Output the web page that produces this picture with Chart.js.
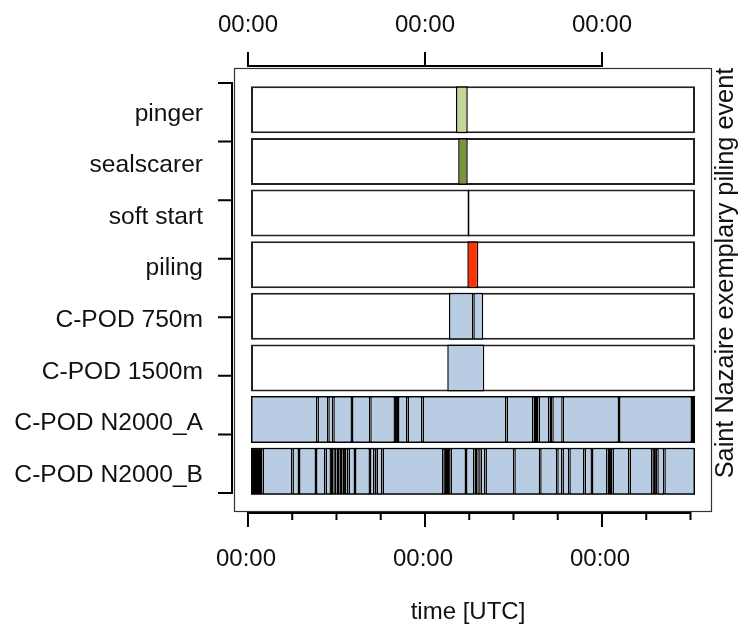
<!DOCTYPE html>
<html>
<head>
<meta charset="utf-8">
<script src="https://cdn.jsdelivr.net/npm/chart.js@4"></script>
<style>
  body { margin: 0; background: #fff; }
  canvas { display: block; }
</style>
</head>
<body>
<canvas id="myChart" width="742" height="632"></canvas>
<script>
'use strict';

// rows, top to bottom
const categories = ['pinger', 'sealscarer', 'soft start', 'piling', 'C-POD 750m', 'C-POD 1500m', 'C-POD N2000_A', 'C-POD N2000_B'];

// time axis in hours, ticks every 6h, labelled every 24h
const xRange = [0.41, 60.61];
const majorTicks = [0, 24, 48];
const minorTicks = [6, 12, 18, 30, 36, 42, 54, 60];
const tickLabels = ['00:00', '00:00', '00:00'];

// event intervals [start, end] in hours
const pinger = [[28.2, 29.8]];
const sealscarer = [[28.5, 29.8]];
const softStart = [[29.76, 30.04]];
const piling = [[29.74, 31.23]];
const pod750 = [[27.25, 30.55], [30.55, 31.9]];
const pod1500 = [[27.02, 32.04]];
const n2000A = [[0.41, 9.42], [9.42, 10.89], [10.89, 11.57], [11.57, 14.1], [14.1, 16.58], [16.58, 19.93],
   [20.34, 21.63], [21.63, 23.66], [23.66, 35.05], [35.05, 38.71], [39.39, 40.88], [40.88, 41.26],
   [41.26, 42.67], [42.67, 50.31], [50.31, 60.2]];
const n2000ABursts = [[19.93, 20.34], [38.71, 39.39], [60.2, 60.61]];
const n2000B = [[1.97, 6.03], [6.03, 6.92], [6.92, 9.22], [9.22, 10.51], [10.51, 11.25], [11.57, 12.0],
   [12.0, 12.38], [12.38, 12.79], [12.79, 13.15], [13.15, 13.63], [13.63, 14.51], [14.51, 16.54],
   [16.54, 17.15], [17.45, 18.24], [18.24, 26.48], [27.48, 29.56], [29.56, 30.71], [30.71, 31.09],
   [31.09, 31.55], [31.55, 32.2], [32.2, 36.11], [36.11, 39.62], [39.62, 41.93], [41.93, 42.64],
   [42.64, 43.57], [43.57, 45.63], [45.63, 46.64], [46.64, 48.75], [49.42, 51.73], [51.73, 54.82],
   [55.5, 56.45], [56.45, 60.61]];
const n2000BBursts = [[0.41, 1.97], [11.25, 11.57], [17.15, 17.45], [26.48, 27.48], [48.75, 49.42], [54.82, 55.5]];

const stripText = 'Saint Nazaire exemplary piling event';
const xTitle = 'time [UTC]';

const FONT = '24px "Liberation Sans", Arial, sans-serif';
const LABEL_FONT = '24.6px "Liberation Sans", Arial, sans-serif';
const STRIP_FONT = '25.3px "Liberation Sans", Arial, sans-serif';
const lightBlue = '#b8cce4';

function rowData(row, intervals) {
   return intervals.map(function (iv) { return { y: row, x: iv }; });
}

function segDataset(rows, color, order) {
   var data = [];
   rows.forEach(function (r) { data = data.concat(rowData(r[0], r[1])); });
   return {
      data: data,
      backgroundColor: color,
      borderColor: '#000',
      borderWidth: 1.5,
      borderSkipped: false,
      grouped: false,
      barPercentage: 0.91,
      categoryPercentage: 1,
      order: order
   };
}

// lattice style axes, box and texts
const latticeAxes = {
   id: 'latticeAxes',
   afterDraw(chart) {
      const ctx = chart.ctx;
      const xs = chart.scales.x;
      const ys = chart.scales.y;
      ctx.save();

      // outer box
      ctx.strokeStyle = '#333';
      ctx.lineWidth = 1.2;
      ctx.strokeRect(234.5, 68.5, 477, 443);

      ctx.strokeStyle = '#000';
      ctx.lineWidth = 2;
      ctx.lineCap = 'butt';

      // top axis
      ctx.beginPath();
      ctx.moveTo(xs.getPixelForValue(majorTicks[0]) - 1, 66);
      ctx.lineTo(xs.getPixelForValue(majorTicks[majorTicks.length - 1]) + 1, 66);
      majorTicks.forEach(function (t) {
         const px = xs.getPixelForValue(t);
         ctx.moveTo(px, 52);
         ctx.lineTo(px, 66);
      });
      ctx.stroke();

      // bottom axis
      ctx.beginPath();
      ctx.moveTo(xs.getPixelForValue(majorTicks[0]) - 1, 513);
      ctx.lineTo(xs.getPixelForValue(minorTicks[minorTicks.length - 1]) + 1, 513);
      majorTicks.forEach(function (t) {
         const px = xs.getPixelForValue(t);
         ctx.moveTo(px, 513);
         ctx.lineTo(px, 527);
      });
      minorTicks.forEach(function (t) {
         const px = xs.getPixelForValue(t);
         ctx.moveTo(px, 513);
         ctx.lineTo(px, 520);
      });
      ctx.stroke();

      // left axis
      const yTop = 83, yBot = 493;
      ctx.beginPath();
      ctx.moveTo(232, yTop - 1);
      ctx.lineTo(232, yBot + 1);
      for (let i = 0; i < categories.length; i++) {
         const py = yTop + i * (yBot - yTop) / (categories.length - 1);
         ctx.moveTo(218, py);
         ctx.lineTo(232, py);
      }
      ctx.stroke();

      // texts
      ctx.fillStyle = '#111';
      ctx.font = FONT;
      ctx.textAlign = 'center';
      ctx.textBaseline = 'middle';
      majorTicks.forEach(function (t, i) {
         const px = xs.getPixelForValue(t);
         ctx.fillText(tickLabels[i], px, 25);
         ctx.fillText(tickLabels[i], px - 2, 559);
      });
      ctx.fillText(xTitle, 468, 612);

      ctx.font = LABEL_FONT;
      ctx.textAlign = 'right';
      categories.forEach(function (c, i) {
         ctx.fillText(c, 203, ys.getPixelForValue(i) + 4);
      });

      ctx.font = STRIP_FONT;
      ctx.translate(726, 273);
      ctx.rotate(-Math.PI / 2);
      ctx.textAlign = 'center';
      ctx.fillText(stripText, 0, 0);
      ctx.restore();
   }
};

const panels = {
   data: categories.map(function (c) { return { y: c, x: xRange }; }),
   backgroundColor: '#fff',
   borderColor: '#222',
   borderWidth: 2,
   borderSkipped: false,
   grouped: false,
   barPercentage: 0.91,
   categoryPercentage: 1,
   order: 3
};

const ctx = document.getElementById('myChart');
const myChart = new Chart(ctx, {
   type: 'bar',
   data: {
      labels: categories,
      datasets: [
         panels,
         segDataset([['pinger', pinger]], '#c4d79b', 2),
         segDataset([['sealscarer', sealscarer]], '#77933c', 2),
         segDataset([['soft start', softStart]], '#000', 2),
         segDataset([['piling', piling]], '#ff3300', 2),
         segDataset([['C-POD 750m', pod750], ['C-POD 1500m', pod1500],
            ['C-POD N2000_A', n2000A], ['C-POD N2000_B', n2000B]], lightBlue, 2),
         segDataset([['C-POD N2000_A', n2000ABursts], ['C-POD N2000_B', n2000BBursts]], '#000', 1)
      ]
   },
   options: {
      indexAxis: 'y',
      responsive: false,
      animation: false,
      layout: { padding: { left: 251, right: 47, top: 84, bottom: 135 } },
      scales: {
         x: { type: 'linear', min: xRange[0], max: xRange[1], display: false },
         y: { type: 'category', display: false }
      },
      plugins: {
         legend: { display: false },
         tooltip: { enabled: false }
      }
   },
   plugins: [latticeAxes]
});
</script>
</body>
</html>
